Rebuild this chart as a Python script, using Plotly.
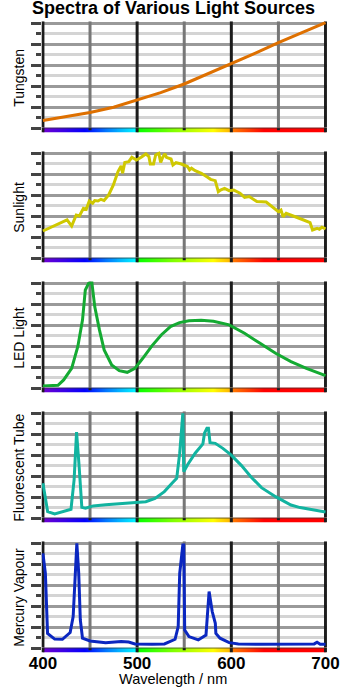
import plotly.graph_objects as go

W, H = 354, 690
FONT = "Liberation Sans, Arial, Helvetica, sans-serif"

# ---------------- data (relative intensity, % of peak) ----------------
tungsten_nm = [400, 425, 450, 475, 500, 525, 550, 575, 600, 625, 650, 675, 700]
tungsten_val = [7.4, 11.2, 15.0, 20.0, 27.0, 34.0, 42.2, 51.8, 62.0, 71.4, 81.6, 91.4, 100.6]

sunlight_nm = [400, 425.6, 430.5, 435.4, 438.7, 443, 446, 449.2, 452.8, 455, 458.4, 461.6, 464.9,
               469.8, 474.8, 479.7, 483, 484.6, 486.9, 491.1, 494.4, 499.3, 504.3, 509.2, 512.5,
               514, 517.4, 519.7, 523, 525, 527.2, 529.5, 531.1, 536, 538, 541.3, 546.9, 553.4,
               555.7, 557.7, 561.6, 568.2, 574.8, 578, 582.9, 586.2, 588.5, 592.8, 597.7, 602.6,
               609.2, 614.1, 619, 627.2, 637, 646.9, 650, 652.7, 655, 658.2, 663.3, 674.7, 683.6,
               686.2, 691.1, 693.4, 696.1, 700]
sunlight_val = [26, 36.6, 30.8, 41.2, 40.4, 47.6, 46.6, 54.6, 52.4, 55, 54.6, 56.2, 55,
                60.4, 69.8, 82.6, 88, 81, 91.2, 92, 96.2, 93.6, 96.2, 99.4, 96.8,
                89.8, 89.8, 98.4, 100, 91.2, 96.2, 99.4, 96.2, 94.6, 88.8, 91.2, 89.8, 87.4,
                84.2, 85.8, 83.4, 81, 77.2, 75.2, 74, 63.4, 65, 66.6, 64.4, 65,
                62, 58, 58.8, 54, 53.6, 46, 44.4, 46, 39.6, 42.8, 41.2, 37.2, 34,
                27, 28.6, 27.6, 29.6, 28]

led_nm = [400, 416, 422, 430.5, 437, 442, 445, 448.5, 452, 455, 460, 465, 473, 481, 489.5,
          497.7, 506, 515.7, 525.6, 535.4, 545, 555, 568, 581, 597.7, 614, 630.5, 647, 663.3,
          679.7, 700]
led_val = [2.2, 2.8, 8, 19, 39.6, 65, 93.6, 100, 100.4, 77.8, 55.6, 36.6, 22.2, 16.8, 15.2,
           19, 28.6, 40.4, 50.8, 58.8, 62.6, 64.4, 64.8, 63.8, 60.4, 52.4, 42.8, 33.4, 25.4,
           19, 12]

fluor_nm = [400, 405, 412.5, 420.7, 429.8, 433.1, 435.7, 438.4, 441.3, 445.2, 453.4, 466.6,
            482.9, 499.3, 509.2, 519, 528.9, 537, 542, 545.2, 548.5, 549.5, 553.4, 561.6,
            569.8, 571.5, 574.1, 575.7, 577.4, 583, 591, 599.7, 610.8, 620.7, 632, 647, 663.3,
            673, 686, 700]
fluor_val = [33.4, 6.4, 4.2, 6.4, 8.6, 36.6, 82, 49.8, 10.4, 9.6, 11.8, 13,
             14.2, 15, 15.8, 19, 25.4, 33.4, 38, 62, 100, 44.4, 50.8, 62,
             70.8, 81, 85.8, 85.8, 72, 71.4, 66.6, 60.4, 50.2, 39.6, 29.2, 20.6, 12.6,
             10.2, 8, 6]

mercury_nm = [400, 402.6, 404.9, 412.5, 420.7, 428.9, 432.1, 434.4, 436, 438, 439.7, 442, 450,
              466.6, 483, 491, 497.7, 515.7, 529, 540.3, 543.6, 545.2, 548.5, 549.5, 550.5, 555,
              564.9, 573.1, 574.8, 576.4, 579.7, 583, 583.6, 588, 597.7, 607.5, 630.5, 663.3,
              688, 691, 694.4, 700]
mercury_val = [90.4, 71.4, 14.2, 8.8, 8.6, 15, 30.2, 71.4, 100, 71.4, 27, 9.6, 7,
               5.4, 6.4, 6, 4.2, 3.8, 4.2, 8.6, 20.6, 71.4, 98.4, 98.4, 17.4, 11.2,
               8, 12.6, 30.2, 54, 35, 23.8, 14.2, 9.6, 5.4, 4.2, 3.8, 3.8,
               4.2, 5.8, 3.8, 3.8]

source_names = ["Tungsten", "Sunlight", "LED Light", "Fluorescent Tube", "Mercury Vapour"]
source_colors = ["#de7000", "#cfc800", "#14aa32", "#12b3a0", "#0b27c0"]
source_nm = [tungsten_nm, sunlight_nm, led_nm, fluor_nm, mercury_nm]
source_val = [tungsten_val, sunlight_val, led_val, fluor_val, mercury_val]

x_major = [400, 500, 600, 700]
x_minor = [450, 550, 650]
x_tick_labels = ["400", "500", "600", "700"]

spectrum_stops = [
    [0.0, "#7000d0"], [0.15, "#0000ff"], [0.23, "#0080ff"], [0.3328, "#00ffff"],
    [0.3335, "#00ff00"], [0.46, "#80ff00"], [0.6, "#ffff00"], [0.6655, "#ffb000"],
    [0.6672, "#ff8000"], [0.78, "#ff0000"], [1.0, "#ff0000"],
]
spectrum_x = [400.5 + k for k in range(300)]

# ---------------- layout geometry (pixels) ----------------
NM_LO, NM_HI = 400, 700
X_LO_PX, X_HI_PX = 32.3, 337.3
PAD_NM = 1.5
px_per_nm = (X_HI_PX - X_LO_PX) / (NM_HI - NM_LO)
XR = [NM_LO - PAD_NM, NM_HI + PAD_NM]
XDOM = [(X_LO_PX - PAD_NM * px_per_nm) / W, (X_HI_PX + PAD_NM * px_per_nm) / W]

B0 = 128.3          # pixel of value 0 in first panel
STEP = 130          # pixel distance between panels
SPAN = 105          # pixels for 0..100
YMAX = 102


def py(px):
    return 1 - px / H


fig = go.Figure()
layout = dict(
    width=W, height=H, margin=dict(l=0, r=0, t=0, b=0),
    paper_bgcolor="white", plot_bgcolor="white",
    showlegend=False, font=dict(family=FONT, color="black"),
)
shapes = []
annotations = []

for i in range(5):
    a = 2 * i + 1
    b = 2 * i + 2
    B = B0 + STEP * i
    top = B - SPAN * YMAX / 100.0
    xa, ya = f"x{a}", f"y{a}"
    xb, yb = f"x{b}", f"y{b}"

    layout[f"xaxis{a}"] = dict(domain=XDOM, range=XR, anchor=ya, showgrid=False, zeroline=False,
                               showticklabels=False, ticks="", showline=False, fixedrange=True)
    layout[f"yaxis{a}"] = dict(
        domain=[py(B), py(top)], range=[0, YMAX], anchor=xa, tick0=0, dtick=20,
        showgrid=True, gridcolor="#9a9a9a", gridwidth=3, zeroline=False, showline=False,
        ticks="outside", ticklen=10, tickwidth=3, tickcolor="#444", showticklabels=False,
        minor=dict(dtick=10, tick0=0, showgrid=True, gridcolor="#d4d4d4", gridwidth=3,
                   ticks="outside", ticklen=5, tickwidth=3, tickcolor="#444"),
        fixedrange=True,
    )
    last = i == 4
    layout[f"xaxis{b}"] = dict(
        domain=XDOM, range=XR, anchor=yb, showgrid=False, zeroline=False, showline=False,
        ticks="", showticklabels=last, tickvals=x_major, ticktext=x_tick_labels,
        ticklabelstandoff=-2,
        tickfont=dict(family=FONT, size=17, color="black", weight="bold"), fixedrange=True,
    )
    layout[f"yaxis{b}"] = dict(domain=[py(B + 4.2), py(B - 0.8)], range=[-0.5, 0.5], anchor=xb,
                               visible=False, fixedrange=True)

    # spectrum colour bar
    fig.add_trace(go.Heatmap(x=spectrum_x, y=[0], z=[spectrum_x], zmin=NM_LO, zmax=NM_HI,
                             colorscale=spectrum_stops, showscale=False, hoverinfo="skip",
                             xaxis=xb, yaxis=yb))
    # curve
    fig.add_trace(go.Scatter(x=source_nm[i], y=source_val[i], mode="lines",
                             line=dict(color=source_colors[i], width=3),
                             hoverinfo="skip", xaxis=xa, yaxis=ya))

    # vertical grid lines (drawn over horizontal grid, under the curve)
    for v in x_major:
        shapes.append(dict(type="line", xref=xa, yref=ya, x0=v, x1=v, y0=0, y1=YMAX,
                           line=dict(color="#1c1c1c", width=3), layer="between"))
        shapes.append(dict(type="line", xref=xb, yref=yb, x0=v, x1=v, y0=-0.5, y1=0.5,
                           line=dict(color="#1c1c1c", width=3), layer="above"))
    for v in x_minor:
        shapes.append(dict(type="line", xref=xa, yref=ya, x0=v, x1=v, y0=0, y1=YMAX,
                           line=dict(color="#777777", width=3), layer="between"))
        shapes.append(dict(type="line", xref=xb, yref=yb, x0=v, x1=v, y0=-0.05, y1=0.5,
                           line=dict(color="#1c1c1c", width=3), layer="above"))
    shapes.append(dict(type="line", xref=xb, yref=yb, x0=NM_LO, x1=NM_HI, y0=0.42, y1=0.42,
                       line=dict(color="#333333", width=1), layer="above"))

    annotations.append(dict(text=source_names[i], x=6.5 / W, y=py((B + top) / 2 + 3),
                            xref="paper", yref="paper", xanchor="center", yanchor="middle",
                            textangle=-90, showarrow=False,
                            font=dict(family=FONT, size=14, color="black")))

annotations.append(dict(text="Spectra of Various Light Sources", x=173.5 / W, y=py(8.3),
                        xref="paper", yref="paper", xanchor="center", yanchor="middle",
                        showarrow=False,
                        font=dict(family=FONT, size=18, color="black", weight="bold")))
annotations.append(dict(text="Wavelength / nm", x=172.5 / W, y=py(679),
                        xref="paper", yref="paper", xanchor="center", yanchor="middle",
                        showarrow=False, font=dict(family=FONT, size=14.5, color="black")))

layout["shapes"] = shapes
layout["annotations"] = annotations
fig.update_layout(**layout)
fig.write_html("out.html")
